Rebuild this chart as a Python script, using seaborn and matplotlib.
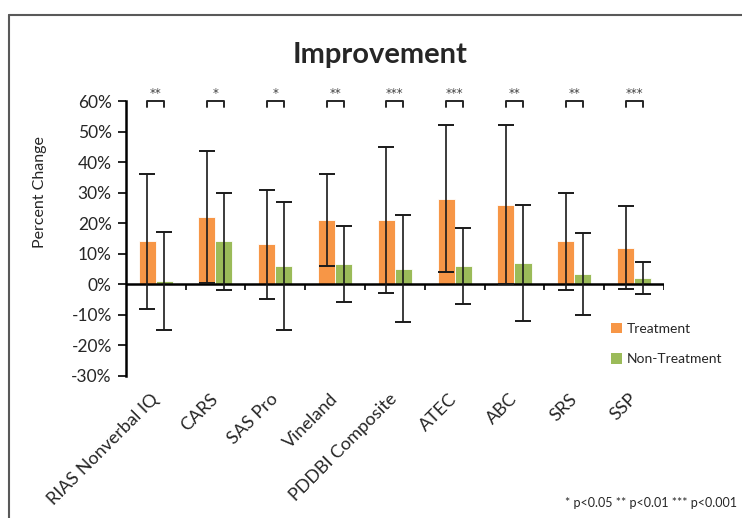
import numpy as np
import pandas as pd
import seaborn as sns
import matplotlib.pyplot as plt
from matplotlib.lines import Line2D
from matplotlib.patches import Patch

# values (percent change)
categories = ["RIAS Nonverbal IQ", "CARS", "SAS Pro", "Vineland", "PDDBI Composite",
              "ATEC", "ABC", "SRS", "SSP"]
treatment = [14, 22, 13, 21, 21, 28, 26, 14, 12]
treatment_err = [22, 21.5, 18, 15, 24, 24, 26, 16, 13.5]
non_treatment = [1, 14, 6, 6.5, 5, 6, 7, 3.3, 2]
non_treatment_err = [16, 16, 21, 12.5, 17.5, 12.5, 19, 13.5, 5.3]
significance = ["**", "*", "*", "**", "***", "***", "**", "**", "***"]
y_ticks = [-30, -20, -10, 0, 10, 20, 30, 40, 50, 60]

groups = ["Treatment", "Non-Treatment"]
colors = ["#F79646", "#9BBB59"]

df = pd.DataFrame({
    "Measure": categories * 2,
    "Group": [groups[0]] * len(categories) + [groups[1]] * len(categories),
    "Change": treatment + non_treatment,
})

sns.set_style("white")
plt.rcParams['font.family'] = ['Lato', 'DejaVu Sans']

fig = plt.figure(figsize=(7.42, 5.18), dpi=100)
ax = fig.add_axes([0.1694, 0.2747, 0.7255, 0.5303])

sns.barplot(data=df, x="Measure", y="Change", hue="Group", palette=colors,
            saturation=1, width=0.57, edgecolor="white", linewidth=0.6,
            errorbar=None, legend=False, ax=ax)

# symmetric error bars on top of each bar
for cont, vals, errs in zip(ax.containers, [treatment, non_treatment],
                            [treatment_err, non_treatment_err]):
    xs = [b.get_x() + b.get_width() / 2 for b in cont]
    ax.errorbar(xs, vals, yerr=errs, fmt="none", ecolor="#1a1a1a",
                elinewidth=1.2, capsize=5.5, capthick=1.4, zorder=5)

# significance brackets above each pair
t_x = [b.get_x() + b.get_width() / 2 for b in ax.containers[0]]
n_x = [b.get_x() + b.get_width() / 2 for b in ax.containers[1]]
for x1, x2, stars in zip(t_x, n_x, significance):
    ax.plot([x1, x1, x2, x2], [58, 60, 60, 58], color="#262626", lw=1.4,
            clip_on=False)
    ax.text((x1 + x2) / 2, 60.4, stars, ha="center", va="bottom",
            fontsize=8.5, color="#404040", family="DejaVu Sans", clip_on=False)

ax.set_xlim(-0.5, len(categories) - 0.5)
ax.set_ylim(-30, 60)
ax.set_yticks(y_ticks)
ax.set_yticklabels([f"{v}%" for v in y_ticks], fontsize=12.5)
ax.tick_params(axis="y", direction="out", length=6, width=1.2, color="black",
               left=True, pad=4)
ax.tick_params(axis="x", length=0, pad=15)
ax.set_xticks(range(len(categories)))
ax.set_xticklabels(categories, rotation=45, ha="right", va="center",
                   rotation_mode="anchor", fontsize=13)
ax.set_xlabel("")
ax.set_ylabel("")

for side in ["top", "right", "bottom"]:
    ax.spines[side].set_visible(False)
ax.spines["left"].set_color("black")
ax.spines["left"].set_linewidth(1.8)

# zero line with category dividers
ax.axhline(0, color="black", lw=1.8, zorder=4)
ax.vlines(np.arange(len(categories) + 1) - 0.5, -1.8, 0, color="black",
          lw=1.2, zorder=4)

fig.text(0.512, 0.894, "Improvement", ha="center", va="center",
         fontsize=21, fontweight="bold")
fig.text(0.054, 0.629, "Percent Change", ha="center", va="center",
         rotation=90, fontsize=11.5)
fig.text(0.993, 0.029, "* p<0.05 ** p<0.01 *** p<0.001", ha="right",
         va="center", fontsize=9)

handles = [Patch(facecolor=c, edgecolor="none") for c in colors]
fig.legend(handles, groups, loc="upper left", bbox_to_anchor=(0.806, 0.401),
           frameon=False, fontsize=10, handlelength=0.8, handleheight=0.8,
           handletextpad=0.4, labelspacing=1.3)

# outer chart frame (top and left edges visible)
fig.add_artist(Line2D([0.012, 1.0], [0.971, 0.971], color="#595959", lw=1.5))
fig.add_artist(Line2D([0.012, 0.012], [0.0, 0.971], color="#595959", lw=1.5))

fig.savefig("out.png", dpi=100)
